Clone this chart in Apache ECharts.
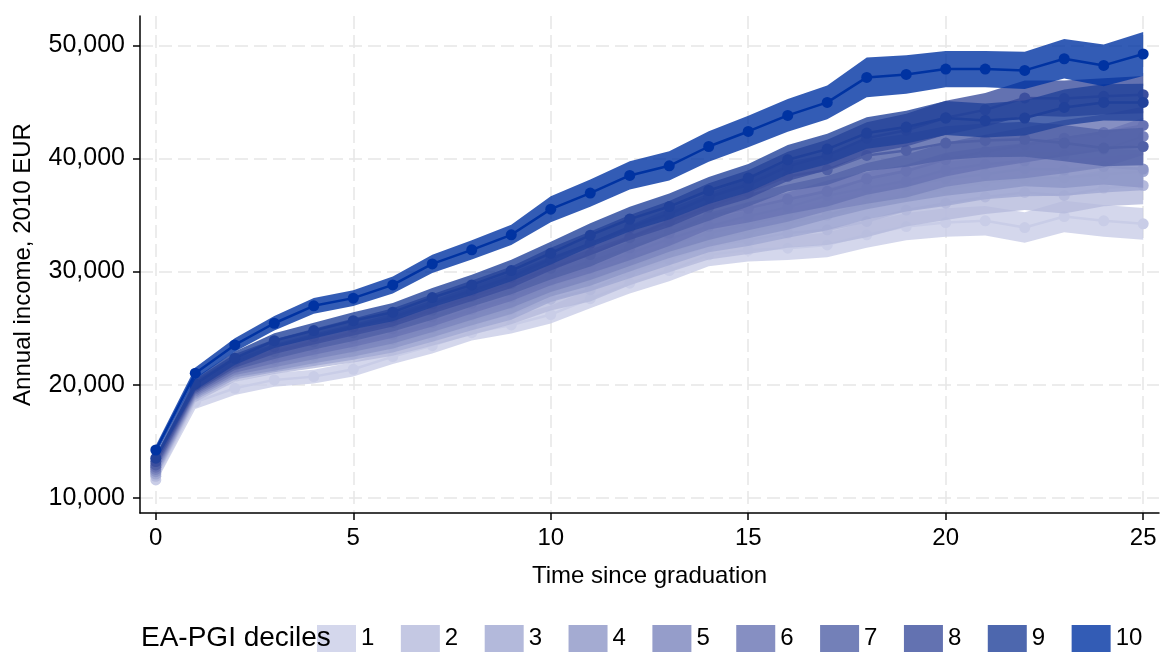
<!DOCTYPE html>
<html>
<head>
<meta charset="utf-8">
<script src="https://cdn.jsdelivr.net/npm/echarts@6/dist/echarts.min.js"></script>
<style>
  html, body { margin: 0; padding: 0; background: #fff; }
  #chart { width: 1161px; height: 654px; }
</style>
</head>
<body>
<div id="chart"></div>
<script>
// Years since graduation
const years = [0, 1, 2, 3, 4, 5, 6, 7, 8, 9, 10, 11, 12, 13, 14, 15, 16, 17, 18, 19, 20, 21, 22, 23, 24, 25];

// Mean annual income (2010 EUR) by EA-PGI decile
const incomeD1  = [11570, 18450, 19680, 20420, 20710, 21360, 22480, 23450, 24600, 25280, 26200, 27600, 28970, 30090, 31480, 31900, 32070, 32360, 33250, 33980, 34340, 34490, 33890, 34870, 34490, 34220];
const incomeD2  = [11900, 19000, 20860, 21590, 22150, 22700, 23350, 24300, 25300, 26300, 27560, 28400, 29900, 31100, 32270, 32800, 33400, 33690, 34430, 35440, 36050, 36600, 37000, 36730, 37380, 37610];
const incomeD3  = [12100, 19200, 21050, 21740, 22350, 22950, 23650, 24650, 25700, 26700, 28300, 29300, 30500, 31700, 32900, 33500, 34300, 35000, 36000, 36770, 37300, 37900, 38200, 38300, 38600, 38850];
const incomeD4  = [12300, 19350, 21250, 21890, 22600, 23250, 24000, 25050, 26150, 27200, 28800, 29800, 31100, 32360, 33400, 34200, 35000, 36000, 36900, 37610, 38200, 38600, 39100, 39000, 39300, 39060];
const incomeD5  = [12500, 19500, 21450, 22190, 22950, 23650, 24450, 25500, 26650, 27750, 29200, 30300, 31600, 32900, 34000, 34900, 35700, 36700, 37400, 38000, 39000, 39500, 39800, 40300, 40800, 41950];
const incomeD6  = [12700, 19650, 21650, 22540, 23350, 24100, 24950, 26000, 27200, 28350, 29800, 30900, 32100, 33400, 34930, 35600, 36400, 37100, 38200, 38900, 39900, 40600, 41200, 41800, 42300, 42920];
const incomeD7  = [12900, 19800, 21900, 22920, 23800, 24600, 25500, 26600, 27800, 28950, 30300, 31500, 33000, 34400, 35700, 37000, 38410, 39000, 40270, 40710, 41360, 41600, 41700, 41360, 40920, 41060];
const incomeD8  = [13200, 19950, 22100, 23360, 24250, 25100, 25950, 27150, 28300, 29500, 31100, 32500, 33900, 35100, 36600, 37700, 39300, 40300, 41800, 42500, 43600, 44300, 45350, 45300, 45500, 45640];
const incomeD9  = [13500, 20060, 22340, 23890, 24780, 25660, 26410, 27700, 28820, 30090, 31630, 33220, 34640, 35750, 37170, 38270, 39890, 40830, 42250, 42780, 43580, 43360, 43580, 44510, 44960, 44960];
const incomeD10 = [14220, 21010, 23510, 25430, 26970, 27650, 28820, 30680, 31920, 33250, 35520, 36940, 38500, 39350, 41060, 42390, 43810, 44960, 47170, 47430, 47910, 47910, 47790, 48820, 48230, 49240];

// Half-width of the 95% confidence band
const ciD1    = [300, 600, 600, 600, 600, 650, 650, 700, 700, 750, 800, 850, 900, 950, 1000, 1000, 1050, 1100, 1150, 1200, 1250, 1300, 1350, 1400, 1400, 1400];
const ciD2to9 = [300, 550, 600, 650, 700, 750, 800, 850, 900, 950, 1000, 1050, 1100, 1150, 1200, 1250, 1300, 1350, 1400, 1450, 1500, 1500, 1550, 1600, 1600, 1650];
const ciD10   = [400, 500, 600, 650, 700, 700, 750, 800, 850, 900, 1150, 1200, 1250, 1300, 1350, 1400, 1450, 1500, 1750, 1700, 1600, 1600, 1650, 1750, 1850, 1950];

const decileNames = ['1', '2', '3', '4', '5', '6', '7', '8', '9', '10'];
const xTicks = [0, 5, 10, 15, 20, 25];
const yTicks = [10000, 20000, 30000, 40000, 50000];

const FONT = '"Liberation Sans", Arial, Helvetica, sans-serif';
// Base RGB per decile, from light lavender to navy
const decileRGB = [
  '201,205,231', '181,186,220', '160,168,210', '141,150,199', '122,132,189',
  '104,115,179', '80,96,166', '60,79,158', '33,65,154', '0,51,162'
];

const means = [incomeD1, incomeD2, incomeD3, incomeD4, incomeD5, incomeD6, incomeD7, incomeD8, incomeD9, incomeD10];
const halfWidths = [ciD1, ciD2to9, ciD2to9, ciD2to9, ciD2to9, ciD2to9, ciD2to9, ciD2to9, ciD2to9, ciD10];

const series = [];
means.forEach((m, i) => {
  const k = i + 1;
  const ci = halfWidths[i];
  const bandColor = `rgba(${decileRGB[i]},0.8)`;
  const solid = `rgb(${decileRGB[i]})`;
  const bandData = years.map((t, j) => [t, m[j] - ci[j], m[j] + ci[j]]);

  // confidence band: one polygon through upper bounds and back along lower bounds
  series.push({
    type: 'custom', name: decileNames[i],
    data: bandData,
    encode: { x: 0, y: [1, 2] },
    itemStyle: { color: bandColor },
    silent: true, z: 10 + 2 * k,
    renderItem: (params, api) => {
      if (params.dataIndex !== 0) return null;
      const upper = bandData.map(d => api.coord([d[0], d[2]]));
      const lower = bandData.map(d => api.coord([d[0], d[1]])).reverse();
      return {
        type: 'polygon',
        shape: { points: upper.concat(lower) },
        style: { fill: bandColor }
      };
    }
  });

  // connected mean line with markers
  series.push({
    type: 'line', name: 'mean' + k,
    data: years.map((t, j) => [t, m[j]]),
    symbol: 'circle', symbolSize: 11, showSymbol: true,
    lineStyle: { width: 2.5, color: solid }, itemStyle: { color: solid },
    silent: true, z: 11 + 2 * k
  });
});

const chart = echarts.init(document.getElementById('chart'), null, { renderer: 'canvas' });
chart.setOption({
  animation: false,
  backgroundColor: '#fff',
  textStyle: { fontFamily: FONT },
  title: {
    text: 'EA-PGI deciles',
    left: 141, top: 624, padding: 0,
    textStyle: { fontFamily: FONT, fontSize: 28, fontWeight: 'normal', color: '#000' }
  },
  legend: {
    data: decileNames,
    left: 317, top: 625, padding: 0,
    orient: 'horizontal',
    icon: 'rect', itemWidth: 39, itemHeight: 27, itemGap: 26.5,
    selectedMode: false,
    itemStyle: { borderWidth: 0 },
    textStyle: { fontFamily: FONT, fontSize: 24, color: '#000' }
  },
  grid: { left: 140, right: 2, top: 16, bottom: 141, containLabel: false },
  xAxis: {
    type: 'value', min: -0.4, max: 25.4,
    name: 'Time since graduation', nameLocation: 'middle', nameGap: 51,
    nameTextStyle: { fontFamily: FONT, fontSize: 24, color: '#000' },
    axisLine: { show: true, onZero: false, lineStyle: { color: '#000', width: 1.5 } },
    axisTick: { show: true, length: 7, customValues: xTicks, lineStyle: { color: '#000', width: 1.5 } },
    axisLabel: { customValues: xTicks, fontFamily: FONT, fontSize: 24, color: '#000', margin: 13 },
    splitLine: { show: true, lineStyle: { type: [13, 6], color: '#e6e6e6', width: 1.5 } }
  },
  yAxis: {
    type: 'value', min: 8650, max: 52600,
    name: 'Annual income, 2010 EUR', nameLocation: 'middle', nameGap: 105, nameRotate: 90,
    nameTextStyle: { fontFamily: FONT, fontSize: 24, color: '#000' },
    axisLine: { show: true, onZero: false, lineStyle: { color: '#000', width: 1.5 } },
    axisTick: { show: true, length: 7, customValues: yTicks, lineStyle: { color: '#000', width: 1.5 } },
    axisLabel: {
      customValues: yTicks, fontFamily: FONT, fontSize: 25, color: '#000', margin: 15,
      formatter: v => Number(v).toLocaleString('en-US')
    },
    splitLine: { show: true, lineStyle: { type: [13, 6], color: '#e6e6e6', width: 1.5 } }
  },
  series: series
});
</script>
</body>
</html>
